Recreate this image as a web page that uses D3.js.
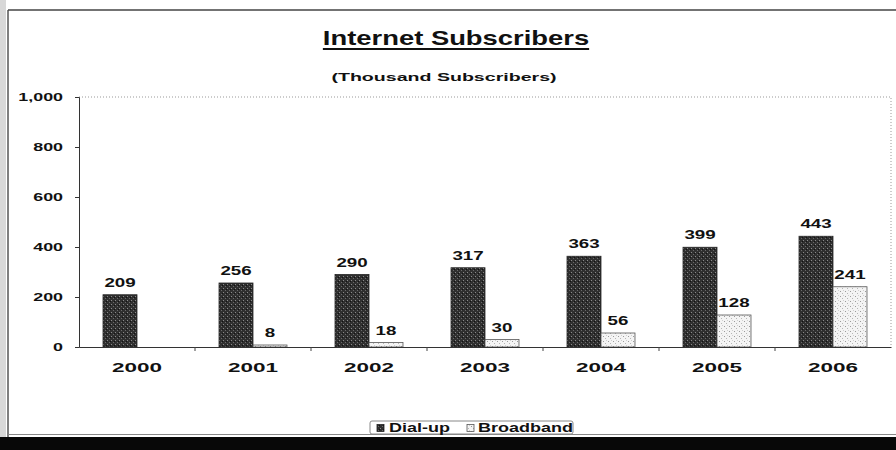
<!DOCTYPE html>
<html>
<head>
<meta charset="utf-8">
<script src="https://cdn.jsdelivr.net/npm/d3@7"></script>
<style>
  html, body { margin: 0; padding: 0; background: #fff; }
  svg { display: block; font-family: Arial, "Liberation Sans", sans-serif; }
</style>
</head>
<body>
<svg id="chart" width="896" height="450"></svg>
<script>
// Internet subscribers, thousands
const years = ["2000", "2001", "2002", "2003", "2004", "2005", "2006"];
const seriesNames = ["Dial-up", "Broadband"];
const dialup = [209, 256, 290, 317, 363, 399, 443];
const broadband = [0, 8, 18, 30, 56, 128, 241];
const yTicks = [0, 200, 400, 600, 800, 1000];

const svg = d3.select("#chart");
const W = 896, H = 450;
const plot = { left: 79, right: 891, top: 97, bottom: 347 };

// textures for the two series
const defs = svg.append("defs");
const dark = defs.append("pattern").attr("id", "texDial")
  .attr("patternUnits", "userSpaceOnUse").attr("width", 4).attr("height", 4);
dark.append("rect").attr("width", 4).attr("height", 4).attr("fill", "#2f2f2f");
dark.append("rect").attr("x", 0).attr("y", 0).attr("width", 1).attr("height", 1).attr("fill", "#8a8a8a");
dark.append("rect").attr("x", 2).attr("y", 2).attr("width", 1).attr("height", 1).attr("fill", "#6a6a6a");
dark.append("rect").attr("x", 3).attr("y", 1).attr("width", 1).attr("height", 1).attr("fill", "#111");

const light = defs.append("pattern").attr("id", "texBroad")
  .attr("patternUnits", "userSpaceOnUse").attr("width", 5).attr("height", 5);
light.append("rect").attr("width", 5).attr("height", 5).attr("fill", "#f4f4f4");
light.append("rect").attr("x", 1).attr("y", 1).attr("width", 1).attr("height", 1).attr("fill", "#9a9a9a");
light.append("rect").attr("x", 3).attr("y", 3).attr("width", 1).attr("height", 1).attr("fill", "#b5b5b5");
light.append("rect").attr("x", 4).attr("y", 0).attr("width", 1).attr("height", 1).attr("fill", "#d0d0d0");

const fills = { "Dial-up": "url(#texDial)", "Broadband": "url(#texBroad)" };
const strokes = { "Dial-up": "#222", "Broadband": "#555" };

// page frame
svg.append("rect").attr("x", 0).attr("y", 0).attr("width", 6).attr("height", H).attr("fill", "#d8d8d8");
svg.append("line").attr("x1", 8).attr("x2", 8).attr("y1", 10).attr("y2", 437)
  .attr("stroke", "#555").attr("stroke-width", 1.5);
svg.append("line").attr("x1", 8).attr("x2", W).attr("y1", 10).attr("y2", 10)
  .attr("stroke", "#444").attr("stroke-width", 1.5);
svg.append("line").attr("x1", 8).attr("x2", W).attr("y1", 434.5).attr("y2", 434.5)
  .attr("stroke", "#888").attr("stroke-width", 1);
svg.append("rect").attr("x", 0).attr("y", 437).attr("width", W).attr("height", H - 437).attr("fill", "#080808");

// text helper: bold type widened horizontally
function label(g, text, x, y, size, sx, anchor, weight) {
  return g.append("text")
    .attr("transform", `translate(${x},${y}) scale(${sx},1)`)
    .attr("text-anchor", anchor || "middle")
    .attr("font-size", size)
    .attr("font-weight", weight || "bold")
    .attr("fill", "#111")
    .text(text);
}

// title + subtitle
const t = label(svg, "Internet Subscribers", 456, 45, 20, 1.37, "middle");
const tw = t.node().getComputedTextLength() * 1.37;
svg.append("line").attr("x1", 456 - tw / 2).attr("x2", 456 + tw / 2)
  .attr("y1", 49).attr("y2", 49).attr("stroke", "#111").attr("stroke-width", 2);
label(svg, "(Thousand Subscribers)", 444, 81, 11, 1.78, "middle");

// scales
const x = d3.scaleBand().domain(years).range([plot.left, plot.right])
  .paddingInner(0.414).paddingOuter(0.207);
const x1 = d3.scaleBand().domain(seriesNames).range([0, x.bandwidth()]);
const y = d3.scaleLinear().domain([0, 1000]).range([plot.bottom, plot.top]);

// plot area outline (dotted top and right)
svg.append("path")
  .attr("d", `M${plot.left},${plot.top}H${plot.right}V${plot.bottom}`)
  .attr("fill", "none").attr("stroke", "#999").attr("stroke-width", 1)
  .attr("stroke-dasharray", "1,2");

// y axis
const yAxis = svg.append("g").attr("transform", `translate(${plot.left},0)`)
  .call(d3.axisLeft(y).tickValues(yTicks).tickSize(4).tickFormat(() => ""));
yAxis.select(".domain").attr("stroke", "#333");
yAxis.selectAll(".tick line").attr("stroke", "#333");
yAxis.selectAll(".tick").each(function (d) {
  label(d3.select(this), d3.format(",")(d), -16, 3.7, 10.5, 1.7, "end");
});

// bars
const rows = years.map((yr, i) => ({ year: yr, values: [
  { key: "Dial-up", v: dialup[i] }, { key: "Broadband", v: broadband[i] }] }));

const groups = svg.append("g").selectAll("g").data(rows).join("g")
  .attr("transform", d => `translate(${x(d.year)},0)`);

groups.selectAll("rect").data(d => d.values.filter(e => e.v > 0)).join("rect")
  .attr("x", d => x1(d.key))
  .attr("y", d => y(d.v))
  .attr("width", x1.bandwidth())
  .attr("height", d => y(0) - y(d.v))
  .attr("fill", d => fills[d.key])
  .attr("stroke", d => strokes[d.key])
  .attr("stroke-width", 0.8);

groups.each(function (d) {
  const g = d3.select(this);
  d.values.filter(e => e.v > 0).forEach(e => {
    label(g, String(e.v), x1(e.key) + x1.bandwidth() / 2, y(e.v) - 8, 12.5, 1.5, "middle");
  });
});

// x axis
const xAxis = svg.append("g").attr("transform", `translate(0,${plot.bottom})`)
  .call(d3.axisBottom(x).tickSize(0).tickFormat(() => ""));
xAxis.select(".domain").attr("stroke", "#333").attr("stroke-width", 1.2);
// ticks between categories
const step = x.step();
svg.append("g").selectAll("line").data(years.slice(1)).join("line")
  .attr("x1", d => x(d) - x.paddingInner() * step / 2)
  .attr("x2", d => x(d) - x.paddingInner() * step / 2)
  .attr("y1", plot.bottom).attr("y2", plot.bottom + 4)
  .attr("stroke", "#444");
xAxis.selectAll(".tick").each(function (d) {
  label(d3.select(this), d, 0, 25, 12.5, 1.8, "middle");
});

// legend
const lg = svg.append("g");
lg.append("rect").attr("x", 370).attr("y", 421).attr("width", 203).attr("height", 13)
  .attr("rx", 2).attr("fill", "#fff").attr("stroke", "#888").attr("stroke-width", 1);
const items = [
  { key: "Dial-up", sx: 377, tx: 389 },
  { key: "Broadband", sx: 467, tx: 478 }
];
items.forEach(it => {
  lg.append("rect").attr("x", it.sx).attr("y", 424.5).attr("width", 7).attr("height", 7)
    .attr("fill", fills[it.key]).attr("stroke", strokes[it.key]).attr("stroke-width", 0.8);
  label(lg, it.key, it.tx, 432, 12, 1.5, "start");
});
</script>
</body>
</html>
